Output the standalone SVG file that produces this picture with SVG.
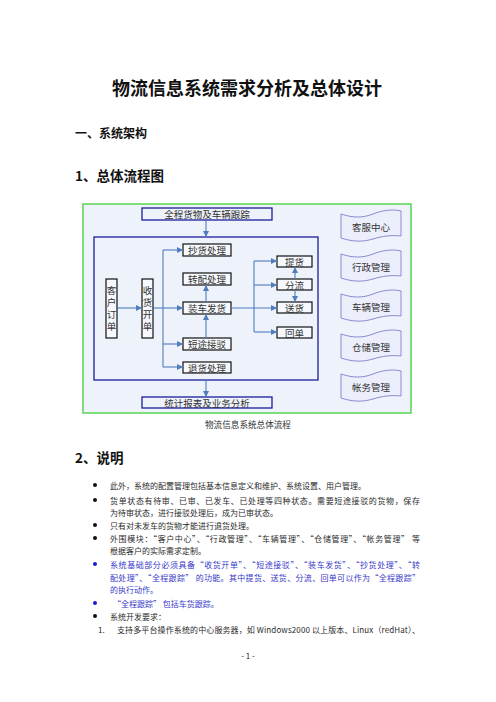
<svg xmlns="http://www.w3.org/2000/svg" width="496" height="702" viewBox="0 0 496 702">
<style>
.page{fill:#ffffff}
.frame{fill:#eef2fa;stroke:#5fd85a;stroke-width:1.6}
.bbox{fill:#eef2fa;stroke:#1c1c9c;stroke-width:1.3}
.box{fill:#f6f8fd;stroke:#111111;stroke-width:1.2}
.tape{fill:#eceefb;stroke:#8a8ad2;stroke-width:1}
.lbl{font-family:"Noto Sans CJK SC",sans-serif;font-size:9.5px;fill:#333333;text-anchor:middle;dominant-baseline:central}
.vlbl{font-family:"Noto Sans CJK SC",sans-serif;font-size:9.5px;fill:#333333;text-anchor:middle;writing-mode:vertical-rl;letter-spacing:2.6px}
.cap{font-family:"Noto Sans CJK SC",sans-serif;font-size:8.6px;fill:#333333;text-anchor:middle;dominant-baseline:central}
.title{font-family:"Noto Sans CJK SC",sans-serif;font-size:18px;font-weight:bold;fill:#111111;text-anchor:middle;dominant-baseline:central}
.h1{font-family:"Noto Sans CJK SC",sans-serif;font-size:12px;font-weight:bold;fill:#111111;dominant-baseline:central}
.h2{font-family:"Noto Sans CJK SC",sans-serif;font-size:13.5px;font-weight:bold;fill:#111111;dominant-baseline:central}
.body{font-family:"Noto Sans CJK SC",sans-serif;font-size:8px;fill:#2a2a2a;dominant-baseline:central}
.blue{fill:#3838c8}
.dot{fill:#111111}
.bdot{fill:#1a1ad0}
.conn line,.conn path{stroke:#4f7dbd;stroke-width:1.1;fill:none}
</style>
<defs>
<marker id="arr" markerUnits="userSpaceOnUse" markerWidth="6" markerHeight="6" refX="6" refY="3" orient="auto">
<path d="M0,0 L6,3 L0,6 z" fill="#4f7dbd"/>
</marker>
<path id="tapeShape" d="M0,5 C12,9 22,9 32,5 C42,1 52,0 60,2 L60,27 C50,26 42,27 32,30 C22,33 12,33 0,29 Z"/>
</defs>
<rect class="page" x="0" y="0" width="496" height="702"/>

<text class="title" x="247" y="87">物流信息系统需求分析及总体设计</text>
<text class="h1" x="75" y="132">一、系统架构</text>
<text class="h2" x="75" y="175">1、总体流程图</text>

<g id="frame"><rect class="frame" x="83" y="204" width="328" height="209"/></g>

<g id="inner"><rect class="bbox" x="94" y="237" width="224" height="143"/></g>

<g id="track"><rect class="bbox" x="142" y="208" width="130" height="12"/><text class="lbl" x="207" y="214">全程货物及车辆跟踪</text></g>
<g id="stats"><rect class="bbox" x="142" y="397" width="130" height="11"/><text class="lbl" x="207" y="402.5">统计报表及业务分析</text></g>

<g id="order"><rect class="box" x="106" y="279" width="11" height="59"/>
<text class="vlbl" x="111.5" y="309.5">客户订单</text></g>
<g id="receive"><rect class="box" x="142" y="279" width="11" height="59"/>
<text class="vlbl" x="147.5" y="309.5">收货开单</text></g>

<g id="copy"><rect class="box" x="183" y="244" width="48" height="12"/><text class="lbl" x="207" y="250">抄货处理</text></g>
<g id="transfer"><rect class="box" x="183" y="273" width="48" height="12"/><text class="lbl" x="207" y="279">转配处理</text></g>
<g id="load"><rect class="box" x="183" y="302" width="48" height="12"/><text class="lbl" x="207" y="308">装车发货</text></g>
<g id="shuttle"><rect class="box" x="183" y="338" width="48" height="12"/><text class="lbl" x="207" y="344">短途接驳</text></g>
<g id="return"><rect class="box" x="183" y="362" width="48" height="11"/><text class="lbl" x="207" y="367.5">退货处理</text></g>

<g id="pickup"><rect class="box" x="277" y="256" width="35" height="11"/><text class="lbl" x="294.5" y="261.5">提货</text></g>
<g id="split"><rect class="box" x="277" y="279" width="35" height="11"/><text class="lbl" x="294.5" y="284.5">分流</text></g>
<g id="deliver"><rect class="box" x="277" y="302" width="35" height="11"/><text class="lbl" x="294.5" y="307.5">送货</text></g>
<g id="receipt"><rect class="box" x="277" y="327" width="35" height="11"/><text class="lbl" x="294.5" y="332.5">回单</text></g>

<g id="service" transform="translate(341,209)"><use href="#tapeShape" class="tape"/><text class="lbl" x="30" y="18">客服中心</text></g>
<g id="admin" transform="translate(341,249)"><use href="#tapeShape" class="tape"/><text class="lbl" x="30" y="18">行政管理</text></g>
<g id="vehicle" transform="translate(341,289)"><use href="#tapeShape" class="tape"/><text class="lbl" x="30" y="18">车辆管理</text></g>
<g id="storage" transform="translate(341,329)"><use href="#tapeShape" class="tape"/><text class="lbl" x="30" y="18">仓储管理</text></g>
<g id="account" transform="translate(341,369)"><use href="#tapeShape" class="tape"/><text class="lbl" x="30" y="18">帐务管理</text></g>

<g class="conn" id="connectors">
<line x1="206" y1="220" x2="206" y2="237" marker-end="url(#arr)"/>
<line x1="206" y1="380" x2="206" y2="397" marker-end="url(#arr)"/>
<line x1="117" y1="308" x2="142" y2="308" marker-end="url(#arr)"/>
<line x1="153" y1="308" x2="183" y2="308" marker-end="url(#arr)"/>
<line x1="163" y1="250" x2="163" y2="367"/>
<line x1="163" y1="250" x2="183" y2="250" marker-end="url(#arr)"/>
<line x1="163" y1="344" x2="183" y2="344" marker-end="url(#arr)"/>
<line x1="163" y1="367" x2="183" y2="367" marker-end="url(#arr)"/>
<line x1="206" y1="338" x2="206" y2="314" marker-end="url(#arr)"/>
<line x1="206" y1="302" x2="206" y2="285" marker-end="url(#arr)"/>
<line x1="231" y1="308" x2="277" y2="308" marker-end="url(#arr)"/>
<line x1="254" y1="261" x2="254" y2="332"/>
<line x1="254" y1="261" x2="277" y2="261" marker-end="url(#arr)"/>
<line x1="254" y1="285" x2="277" y2="285" marker-end="url(#arr)"/>
<line x1="254" y1="332" x2="277" y2="332" marker-end="url(#arr)"/>
<line x1="295" y1="279" x2="295" y2="267" marker-end="url(#arr)"/>
<line x1="295" y1="290" x2="295" y2="302" marker-end="url(#arr)"/>
</g>

<text class="cap" x="248" y="424">物流信息系统总体流程</text>

<text class="h2" x="75" y="457">2、说明</text>

<circle class="dot" cx="95" cy="485" r="2"/>
<text class="body" x="110" y="485">此外，系统的配置管理包括基本信息定义和维护、系统设置、用户管理。</text>
<circle class="dot" cx="95" cy="500" r="2"/>
<text class="body" x="110" y="500" textLength="310" lengthAdjust="spacing">货单状态有待审、已审、已发车、已处理等四种状态。需要短途接驳的货物，保存</text>
<text class="body" x="110" y="512">为待审状态，进行接驳处理后，成为已审状态。</text>
<circle class="dot" cx="95" cy="525" r="2"/>
<text class="body" x="110" y="525">只有对未发车的货物才能进行退货处理。</text>
<circle class="dot" cx="95" cy="538" r="2"/>
<text class="body" x="110" y="538" textLength="310" lengthAdjust="spacing">外围模块：“客户中心”、“行政管理”、“车辆管理”、“仓储管理”、“帐务管理” 等</text>
<text class="body" x="110" y="550">根据客户的实际需求定制。</text>
<circle class="bdot" cx="95" cy="564" r="2"/>
<text class="body blue" x="110" y="564" textLength="310" lengthAdjust="spacing">系统基础部分必须具备“收货开单”、“短途接驳”、“装车发货”、“抄货处理”、“转</text>
<text class="body blue" x="110" y="577" textLength="310" lengthAdjust="spacing">配处理”、“全程跟踪” 的功能。其中提货、送货、分流、回单可以作为“全程跟踪”</text>
<text class="body blue" x="110" y="589">的执行动作。</text>
<circle class="bdot" cx="95" cy="603" r="2"/>
<text class="body blue" x="113" y="603">“全程跟踪” 包括车货跟踪。</text>
<circle class="dot" cx="95" cy="616" r="2"/>
<text class="body" x="110" y="616">系统开发要求：</text>
<text class="body" x="98" y="629">1.</text>
<text class="body" x="117" y="629" textLength="303" lengthAdjust="spacing">支持多平台操作系统的中心服务器，如 Windows2000 以上版本、Linux（redHat）、</text>

<text class="body" x="248" y="655" text-anchor="middle">- 1 -</text>
</svg>
